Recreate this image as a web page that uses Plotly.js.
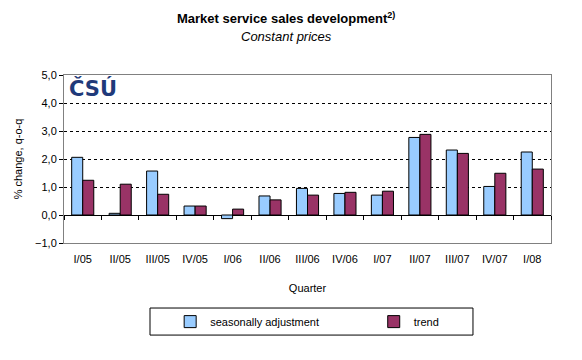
<!DOCTYPE html>
<html>
<head>
  <title>Market service sales development</title>
<script src="https://cdn.jsdelivr.net/npm/plotly.js-dist@3.0.1/plotly.min.js"></script>
<style>body{margin:0;} #graph{width:582px;height:360px;}</style>
</head>
<body>
  <div id="graph"></div>
  <script>
    // quarters and q-o-q change in %
    const quarters = ['I/05', 'II/05', 'III/05', 'IV/05', 'I/06', 'II/06', 'III/06', 'IV/06',
                      'I/07', 'II/07', 'III/07', 'IV/07', 'I/08'];
    const seasAdj = [2.06, 0.06, 1.57, 0.32, -0.13, 0.68, 0.95, 0.77, 0.71, 2.77, 2.32, 1.02, 2.25];
    const trend   = [1.24, 1.10, 0.74, 0.32, 0.21, 0.54, 0.71, 0.81, 0.85, 2.88, 2.20, 1.49, 1.64];
    const yTicks  = [-1, 0, 1, 2, 3, 4, 5];

    const font = 'Liberation Sans, Arial, sans-serif';

    const data = [
      { x: quarters, y: seasAdj, type: 'bar', name: 'seasonally adjustment', legend: 'legend',
        marker: { color: '#99CCFF', line: { color: '#000', width: 1 } } },
      { x: quarters, y: trend, type: 'bar', name: 'trend', legend: 'legend2',
        marker: { color: '#993366', line: { color: '#000', width: 1 } } },
      // empty trace just so the tick-mark axis on the zero line gets drawn
      { x: quarters, y: quarters.map(() => null), type: 'scatter', mode: 'none',
        xaxis: 'x2', showlegend: false, hoverinfo: 'skip' }
    ];

    const legendBase = {
      orientation: 'h', yanchor: 'middle', y: -0.468, xanchor: 'left',
      itemwidth: 30, bgcolor: 'rgba(0,0,0,0)', borderwidth: 0,
      font: { family: font, size: 11 }, itemclick: false
    };

    const layout = {
      width: 582, height: 360,
      margin: { l: 64, r: 31, t: 75, b: 117 },
      paper_bgcolor: '#fff', plot_bgcolor: '#fff',
      font: { family: font, size: 11, color: '#000' },
      separators: ', ',
      showlegend: true,
      barmode: 'group', bargap: 0.41, bargroupgap: 0,
      xaxis: {
        type: 'category',
        showline: true, linecolor: '#808080', linewidth: 1, mirror: true,
        ticks: '', showgrid: false, ticklabelstandoff: 6,
        tickfont: { family: font, size: 11 },
        title: { text: 'Quarter', font: { family: font, size: 11 }, standoff: 20 }
      },
      xaxis2: {
        type: 'category', overlaying: 'x', matches: 'x',
        anchor: 'free', position: 1 / 6,
        showline: false, showgrid: false, showticklabels: false,
        ticks: 'outside', tickson: 'boundaries', ticklen: 4, tickcolor: '#000', tickwidth: 1
      },
      yaxis: {
        range: [-1, 5], tickvals: yTicks, tickformat: '.1f',
        showline: true, linecolor: '#808080', linewidth: 1, mirror: true,
        ticks: 'outside', ticklen: 4, tickcolor: '#000',
        showgrid: true, gridcolor: '#000', griddash: '3px,3px', gridwidth: 1,
        zeroline: true, zerolinecolor: '#000', zerolinewidth: 1,
        tickfont: { family: font, size: 11 },
        title: { text: '% change, q-o-q', font: { family: font, size: 11 }, standoff: 10 }
      },
      legend: Object.assign({}, legendBase, { x: 0.218 }),
      legend2: Object.assign({}, legendBase, { x: 0.636 }),
      shapes: [
        // legend frame
        { type: 'rect', xref: 'paper', yref: 'paper', x0: 0.1766, x1: 0.8398, y0: -0.387, y1: -0.548,
          line: { color: '#000', width: 1 }, fillcolor: 'rgba(0,0,0,0)' }
      ],
      annotations: [
        { text: '<b>Market service sales development<sup>2)</sup></b>', xref: 'paper', yref: 'paper',
          x: 0.456, y: 1.339, xanchor: 'center', yanchor: 'middle', showarrow: false,
          font: { family: font, size: 13, color: '#000' } },
        { text: '<i>Constant prices</i>', xref: 'paper', yref: 'paper',
          x: 0.456, y: 1.232, xanchor: 'center', yanchor: 'middle', showarrow: false,
          font: { family: font, size: 13, color: '#000' } },
        // ČSÚ logo
        { text: '<b>ČSÚ</b>', xref: 'paper', yref: 'paper', x: 0.006, y: 1.005,
          xanchor: 'left', yanchor: 'top', showarrow: false,
          font: { family: 'DejaVu Sans, sans-serif', size: 21, color: '#1F3A7A' } }
      ]
    };

    Plotly.newPlot('graph', data, layout, { staticPlot: true, displayModeBar: false });
  </script>
</body>
</html>
